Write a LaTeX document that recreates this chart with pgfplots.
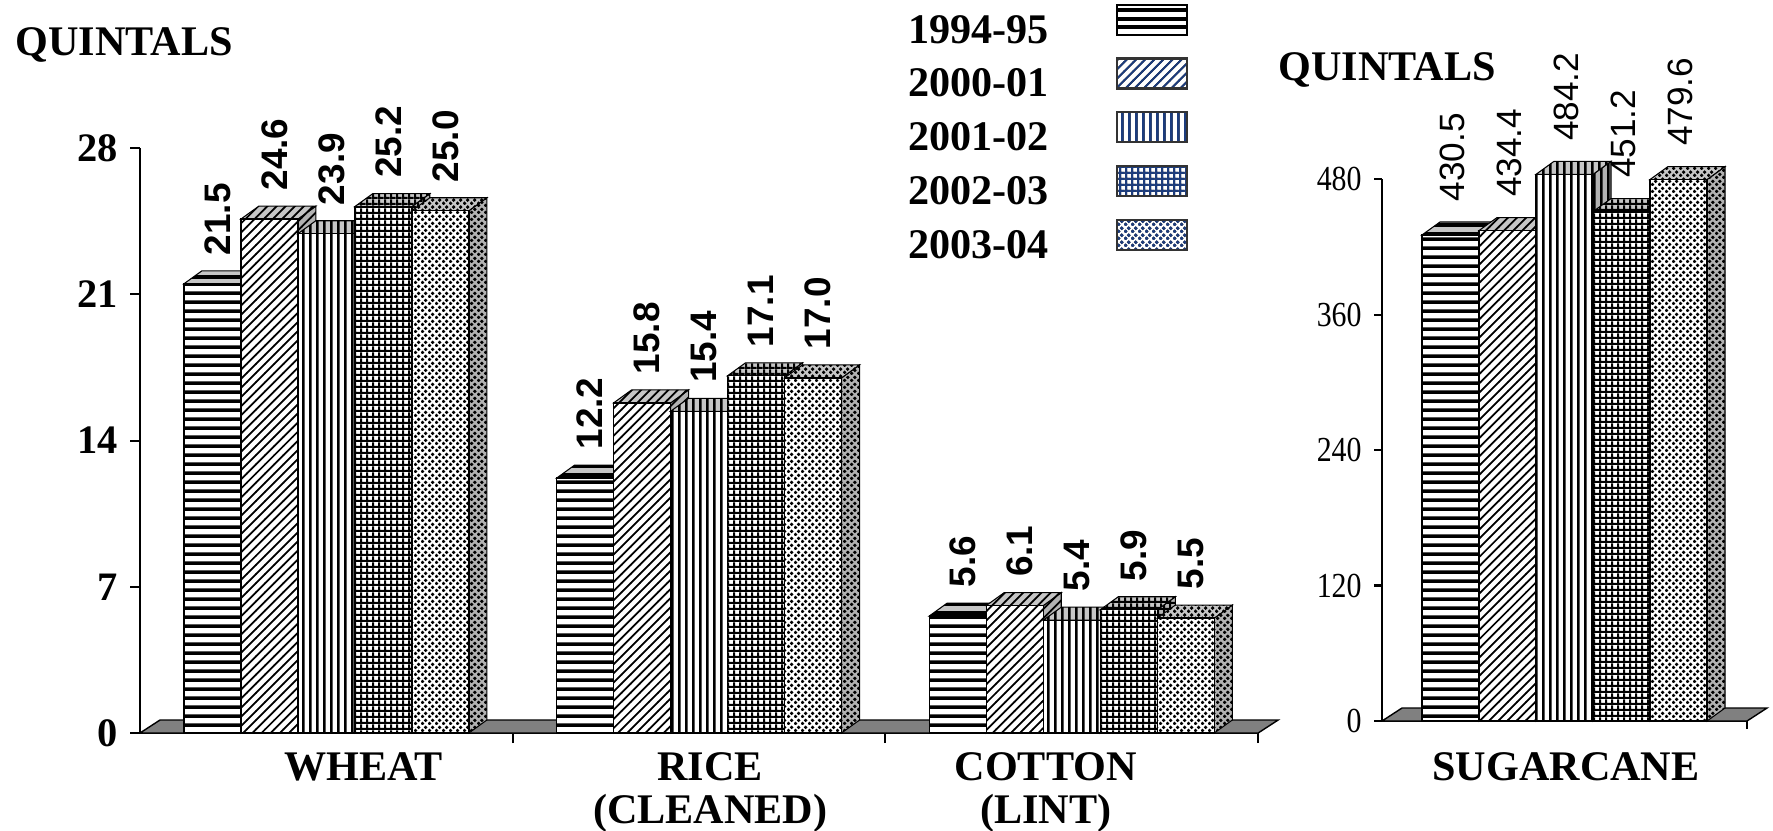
\documentclass[border=0pt]{standalone}
\usepackage{fontspec}
\setmainfont{Liberation Serif}
\setsansfont{Liberation Sans}
\newfontfamily\condserif{Liberation Serif}[FakeStretch=0.85]
\usepackage{pgfplots}
\pgfplotsset{compat=1.18}
\usepackage{pgfplotstable}
\usetikzlibrary{patterns}
\definecolor{legblue}{RGB}{28,60,125}

\pgfdeclarepatternformonly{hl}{\pgfpointorigin}{\pgfqpoint{100pt}{2.45pt}}{\pgfqpoint{100pt}{2.45pt}}{%
  \pgfpathrectangle{\pgfpointorigin}{\pgfqpoint{100pt}{1.1pt}}\pgfusepath{fill}}
\pgfdeclarepatternformonly{dl}{\pgfqpoint{-1pt}{-1pt}}{\pgfqpoint{3.6pt}{3.6pt}}{\pgfqpoint{2.6pt}{2.6pt}}{%
  \pgfsetlinewidth{0.5pt}\pgfpathmoveto{\pgfqpoint{0pt}{0pt}}\pgfpathlineto{\pgfqpoint{2.7pt}{2.7pt}}\pgfusepath{stroke}}
\pgfdeclarepatternformonly{vl}{\pgfpointorigin}{\pgfqpoint{2.1pt}{100pt}}{\pgfqpoint{2.1pt}{100pt}}{%
  \pgfpathrectangle{\pgfpointorigin}{\pgfqpoint{0.8pt}{100pt}}\pgfusepath{fill}}
\pgfdeclarepatternformonly{gr}{\pgfpointorigin}{\pgfqpoint{1.8pt}{1.8pt}}{\pgfqpoint{1.8pt}{1.8pt}}{%
  \pgfpathrectangle{\pgfpointorigin}{\pgfqpoint{1.8pt}{0.65pt}}\pgfpathrectangle{\pgfpointorigin}{\pgfqpoint{0.65pt}{1.8pt}}\pgfusepath{fill}}
\pgfdeclarepatternformonly{dt}{\pgfpointorigin}{\pgfqpoint{2pt}{2pt}}{\pgfqpoint{2pt}{2pt}}{%
  \pgfpathcircle{\pgfqpoint{0.5pt}{0.5pt}}{0.6pt}\pgfpathcircle{\pgfqpoint{1.5pt}{1.5pt}}{0.6pt}\pgfusepath{fill}}

\tikzset{
 catlab/.style={anchor=base, inner sep=0pt, font=\fontsize{12}{14}\selectfont\bfseries},
}

\pgfplotstableread{
x y1 y2 y3 y4 y5
0 21.5 24.6 23.9 25.2 25.0
1 12.2 15.8 15.4 17.1 17.0
2 5.6 6.1 5.4 5.9 5.5
}\leftdata
\pgfplotstableread{
x y1 y2 y3 y4 y5
0 430.5 434.4 484.2 451.2 479.6
}\rightdata

\def\byunit{2.089}
\newcommand\frontpath{%
  \pgfpathrectangle{\pgfpoint{-2.85mm}{-\bh}}{\pgfpoint{5.7mm}{\bh}}}
\newcommand\sidepath{%
  \pgfpathmoveto{\pgfpoint{2.85mm}{0pt}}%
  \pgfpathlineto{\pgfpoint{4.65mm}{1.3mm}}%
  \pgfpathlineto{\pgfpoint{4.65mm}{1.3mm-\bh}}%
  \pgfpathlineto{\pgfpoint{2.85mm}{-\bh}}%
  \pgfpathclose}
\newcommand\toppath{%
  \pgfpathmoveto{\pgfpoint{-2.85mm}{0pt}}%
  \pgfpathlineto{\pgfpoint{2.85mm}{0pt}}%
  \pgfpathlineto{\pgfpoint{4.65mm}{1.3mm}}%
  \pgfpathlineto{\pgfpoint{-1.05mm}{1.3mm}}%
  \pgfpathclose}
\newcommand\barthreed[2]{%
  \pgfmathsetlengthmacro\bh{\hv*\byunit*1mm}%
  \begin{pgfscope}%
    \pgftransformxshift{#1}%
    \pgfsetlinewidth{0.3pt}\pgfsetstrokecolor{black}%
    \sidepath\pgfsetfillcolor{gray!60}\pgfusepath{fill}%
    \sidepath\pgfsetfillpattern{#2}{black}\pgfusepath{fill,stroke}%
  \end{pgfscope}%
  \begin{pgfscope}%
    \pgftransformxshift{#1}%
    \pgfsetlinewidth{0.3pt}\pgfsetstrokecolor{black}%
    \toppath\pgfsetfillcolor{gray!45}\pgfusepath{fill}%
    \toppath\pgfsetfillpattern{#2}{black}\pgfusepath{fill,stroke}%
  \end{pgfscope}%
  \begin{pgfscope}%
    \pgftransformxshift{#1}%
    \pgfsetlinewidth{0.4pt}\pgfsetstrokecolor{black}%
    \frontpath\pgfsetfillcolor{white}\pgfusepath{fill}%
    \frontpath\pgfsetfillpattern{#2}{black}\pgfusepath{fill,stroke}%
  \end{pgfscope}}
\pgfdeclareplotmark{bthreeA}{\barthreed{-11.4mm}{hl}}
\pgfdeclareplotmark{bthreeB}{\barthreed{-5.7mm}{dl}}
\pgfdeclareplotmark{bthreeC}{\barthreed{0mm}{vl}}
\pgfdeclareplotmark{bthreeD}{\barthreed{5.7mm}{gr}}
\pgfdeclareplotmark{bthreeE}{\barthreed{11.4mm}{dt}}

\pgfplotsset{
  front/.style 2 args={ybar, bar width=5.7mm, bar shift=#1, draw=black, line width=0.4pt,
    fill=white, postaction={pattern=#2}},
  threed/.style 2 args={scatter, only marks, mark=#1, forget plot,
    visualization depends on={\thisrow{#2}\as\hv},
    scatter/@pre marker code/.code={}, scatter/@post marker code/.code={}},
  legimg/.style={legend image code/.code={%
    \draw[fill=white, postaction={pattern=#1, pattern color=legblue}, line width=0.6pt, draw=black!80] (0mm,-0.3mm) rectangle (7mm,2.7mm);}},
  leftlab/.style={nodes near coords={\pgfmathprintnumber[fixed,fixed zerofill,precision=1,assume math mode=true]{\pgfplotspointmeta}},
    nodes near coords style={font=\fontsize{10.5}{12}\selectfont\sffamily\bfseries, xshift=#1, xshift=0.5mm, yshift=2.8mm, rotate=90, anchor=west, inner sep=0pt}},
  rightlab/.style={nodes near coords={\pgfmathprintnumber[fixed,fixed zerofill,precision=1,assume math mode=true]{\pgfplotspointmeta}},
    nodes near coords style={font=\fontsize{10}{12}\selectfont\sffamily, xshift=#1, xshift=0.2mm, yshift=3.3mm, rotate=90, anchor=west, inner sep=0pt}},
}

\begin{document}
\begin{tikzpicture}
\useasboundingbox (0,0) rectangle (177.3mm,83mm);
\node[anchor=base west, inner sep=0pt, font=\fontsize{12}{14}\selectfont\bfseries] at (1.5mm,77.5mm) {QUINTALS};
\node[anchor=base west, inner sep=0pt, font=\fontsize{12}{14}\selectfont\bfseries] at (127.8mm,75.0mm) {QUINTALS};

\begin{axis}[
  at={(14mm,9.7mm)}, anchor=south west,
  x=37.27mm, y=2.089mm,
  xmin=-0.5, xmax=2.5, ymin=0, ymax=28,
  axis x line*=bottom, axis y line*=left,
  axis line style={black, line width=0.6pt},
  clip=false,
  xtick={0.5,1.5,2.5}, xticklabels={},
  ytick={0,7,14,21,28},
  tick align=outside, major tick length=1mm,
  tick style={black, line width=0.6pt},
  yticklabel style={font=\fontsize{11.5}{12}\selectfont\bfseries, /pgf/number format/assume math mode=true},
  legend style={at={(axis description cs:0.680,1.248)}, anchor=north west, draw=none, fill=none,
    inner sep=0pt, font=\fontsize{12}{14}\selectfont\bfseries, row sep=0.2mm,
    /tikz/column 1/.style={column sep=6mm}},
  legend cell align=left, legend plot pos=right,
]
\draw[fill=gray, draw=black, line width=0.4pt] (axis cs:-0.5,0) -- (axis cs:2.5,0) -- ([xshift=2mm,yshift=1.3mm]axis cs:2.5,0) -- ([xshift=2mm,yshift=1.3mm]axis cs:-0.5,0) -- cycle;

\addplot[front={-11.4mm}{hl}, leftlab=-11.4mm, legend image code/.code={\draw[fill=white, postaction={pattern=hl, pattern color=black}, line width=0.6pt] (0mm,-0.3mm) rectangle (7mm,2.7mm);}] table[x=x,y=y1]{\leftdata};
\addplot[threed={bthreeA}{y1}] table[x=x,y=y1]{\leftdata};
\addplot[front={-5.7mm}{dl}, leftlab=-5.7mm, legimg=dl] table[x=x,y=y2]{\leftdata};
\addplot[threed={bthreeB}{y2}] table[x=x,y=y2]{\leftdata};
\addplot[front={0mm}{vl}, leftlab=0mm, legimg=vl] table[x=x,y=y3]{\leftdata};
\addplot[threed={bthreeC}{y3}] table[x=x,y=y3]{\leftdata};
\addplot[front={5.7mm}{gr}, leftlab=5.7mm, legimg=gr] table[x=x,y=y4]{\leftdata};
\addplot[threed={bthreeD}{y4}] table[x=x,y=y4]{\leftdata};
\addplot[front={11.4mm}{dt}, leftlab=11.4mm, legimg=dt] table[x=x,y=y5]{\leftdata};
\addplot[threed={bthreeE}{y5}] table[x=x,y=y5]{\leftdata};
\legend{1994-95,2000-01,2001-02,2002-03,2003-04}

\node[catlab] at ([yshift=-4.7mm]axis cs:0.10,0) {WHEAT};
\node[catlab] at ([yshift=-4.7mm]axis cs:1.03,0) {RICE};
\node[catlab] at ([yshift=-9.0mm]axis cs:1.03,0) {(CLEANED)};
\node[catlab] at ([yshift=-4.7mm]axis cs:1.93,0) {COTTON};
\node[catlab] at ([yshift=-9.0mm]axis cs:1.93,0) {(LINT)};
\end{axis}

\def\byunit{0.1129}
\begin{axis}[
  at={(138.2mm,10.9mm)}, anchor=south west,
  x=36.5mm, y=0.1129mm,
  xmin=-0.5, xmax=0.5, ymin=0, ymax=480,
  axis x line*=bottom, axis y line*=left,
  axis line style={black, line width=0.6pt},
  clip=false,
  xtick={0.5}, xticklabels={},
  ytick={0,120,240,360,480},
  tick align=outside, major tick length=0.8mm,
  tick style={black, line width=0.6pt},
  yticklabel style={font=\fontsize{10}{12}\selectfont\condserif, /pgf/number format/assume math mode=true},
]
\draw[fill=gray, draw=black, line width=0.4pt] (axis cs:-0.5,0) -- (axis cs:0.5,0) -- ([xshift=2mm,yshift=1.3mm]axis cs:0.5,0) -- ([xshift=2mm,yshift=1.3mm]axis cs:-0.5,0) -- cycle;
\addplot[front={-11.4mm}{hl}, rightlab=-11.4mm] table[x=x,y=y1]{\rightdata};
\addplot[threed={bthreeA}{y1}] table[x=x,y=y1]{\rightdata};
\addplot[front={-5.7mm}{dl}, rightlab=-5.7mm] table[x=x,y=y2]{\rightdata};
\addplot[threed={bthreeB}{y2}] table[x=x,y=y2]{\rightdata};
\addplot[front={0mm}{vl}, rightlab=0mm] table[x=x,y=y3]{\rightdata};
\addplot[threed={bthreeC}{y3}] table[x=x,y=y3]{\rightdata};
\addplot[front={5.7mm}{gr}, rightlab=5.7mm] table[x=x,y=y4]{\rightdata};
\addplot[threed={bthreeD}{y4}] table[x=x,y=y4]{\rightdata};
\addplot[front={11.4mm}{dt}, rightlab=11.4mm] table[x=x,y=y5]{\rightdata};
\addplot[threed={bthreeE}{y5}] table[x=x,y=y5]{\rightdata};
\node[catlab] at ([yshift=-5.9mm]axis cs:0.004,0) {SUGARCANE};
\end{axis}
\end{tikzpicture}
\end{document}
